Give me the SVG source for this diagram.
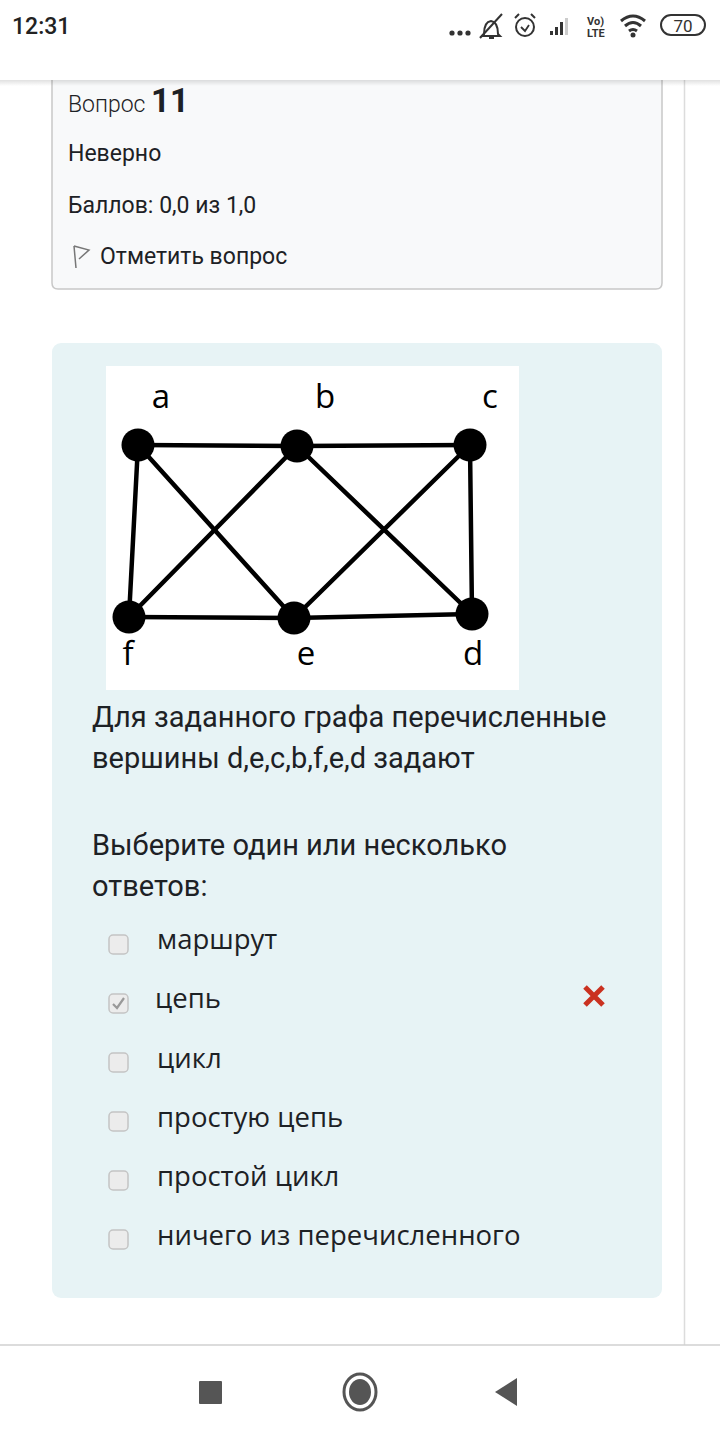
<svg xmlns="http://www.w3.org/2000/svg" width="720" height="1440" viewBox="0 0 720 1440">
<style>
.r{font-family:Roboto,"Liberation Sans",sans-serif;fill:#1d2125}
.o{font-family:"Open Sans","Noto Sans",sans-serif;fill:#1d2125;font-size:27.5px}
.lbl{font-family:"Open Sans","DejaVu Sans",sans-serif;font-size:33px;fill:#000}
.edge{stroke:#000;stroke-width:4.5;stroke-linecap:round}
.node{fill:#000}
.cb{fill:#ececec;stroke:#c4c4c4;stroke-width:1.5}
.ic{fill:#555}
</style>
<defs>
<linearGradient id="sh" x1="0" y1="0" x2="0" y2="1">
<stop offset="0" stop-color="#000" stop-opacity="0.12"/>
<stop offset="1" stop-color="#000" stop-opacity="0"/>
</linearGradient>
</defs>
<rect width="720" height="1440" fill="#fff"/>
<!-- page scroll border -->
<line x1="684.5" y1="80" x2="684.5" y2="1345" stroke="#dcdcdc" stroke-width="1.5"/>
<!-- info box -->
<g id="info">
<path d="M52,70 V283 Q52,289 58,289 H656 Q662,289 662,283 V70 Z" fill="#f8f9fa" stroke="#c8c8c8" stroke-width="1.5"/>
<text x="68" y="112" class="r" font-size="23" font-weight="300" fill="#333">Вопрос <tspan font-size="33" font-weight="700" fill="#1d2125">11</tspan></text>
<text x="68" y="161" class="r" font-size="23">Неверно</text>
<text x="68" y="213" class="r" font-size="23">Баллов: 0,0 из 1,0</text>
<path d="M74,246 L76,268 M74,246 L89,250 L79,259" fill="none" stroke="#777" stroke-width="1.5"/>
<text x="100" y="264" class="r" font-size="23">Отметить вопрос</text>
</g>
<!-- header -->
<rect x="0" y="0" width="720" height="80" fill="#fff"/>
<rect x="0" y="80" width="720" height="6" fill="url(#sh)"/>
<g id="statusbar">
<text x="12" y="34" font-family="Roboto,sans-serif" font-size="23" font-weight="500" fill="#222">12:31</text>
<circle cx="452" cy="33" r="2.6" fill="#333"/><circle cx="460" cy="33" r="2.6" fill="#333"/><circle cx="468" cy="33" r="2.6" fill="#333"/>
<path d="M484,34 Q484,22 491,21 Q498,22 498,34 L500,36 H482 Z M489,38 H494" fill="none" stroke="#333" stroke-width="2"/>
<line x1="480" y1="38" x2="502" y2="14" stroke="#333" stroke-width="2"/>
<circle cx="525" cy="27" r="9" fill="none" stroke="#333" stroke-width="2"/>
<path d="M521,27 L525,31 L529,25" fill="none" stroke="#333" stroke-width="1.8"/>
<path d="M515,18 L519,14 M535,18 L531,14" stroke="#333" stroke-width="2"/>
<rect x="550" y="31" width="3" height="4" fill="#333"/>
<rect x="555" y="27" width="3" height="8" fill="#333"/>
<rect x="560" y="22" width="3" height="13" fill="#333"/>
<rect x="565" y="18" width="3" height="17" fill="#ccc"/>
<text x="587" y="25" font-family="Roboto,sans-serif" font-size="11" font-weight="700" fill="#333">Vo)</text>
<text x="587" y="37" font-family="Roboto,sans-serif" font-size="11" font-weight="700" fill="#333">LTE</text>
<path d="M621,21 Q633,11 645,21 M625,26 Q633,19 641,26 M629,31 Q633,28 637,31" fill="none" stroke="#333" stroke-width="3"/>
<circle cx="633" cy="35" r="2.5" fill="#333"/>
<rect x="661" y="15" width="44" height="20" rx="10" fill="none" stroke="#333" stroke-width="2"/>
<text x="683" y="32" text-anchor="middle" font-family="Roboto,sans-serif" font-size="17" fill="#333">70</text>
</g>
<!-- content box -->
<rect x="52" y="343" width="610" height="955" rx="9" fill="#e7f3f5"/>
<g id="graph">
<rect x="106" y="366" width="413" height="324" fill="#fff"/>
<g id="connectors">
<line class="edge" x1="138" y1="445" x2="297" y2="446"/>
<line class="edge" x1="297" y1="446" x2="470" y2="445"/>
<line class="edge" x1="138" y1="445" x2="129" y2="617"/>
<line class="edge" x1="470" y1="445" x2="472" y2="614"/>
<line class="edge" x1="129" y1="617" x2="294" y2="618"/>
<line class="edge" x1="294" y1="618" x2="472" y2="614"/>
<line class="edge" x1="138" y1="445" x2="294" y2="618"/>
<line class="edge" x1="297" y1="446" x2="129" y2="617"/>
<line class="edge" x1="297" y1="446" x2="472" y2="614"/>
<line class="edge" x1="470" y1="445" x2="294" y2="618"/>
</g>
<g id="node-a"><circle class="node" cx="138" cy="445" r="16.5"/><text class="lbl" x="161" y="408" text-anchor="middle">a</text></g>
<g id="node-b"><circle class="node" cx="297" cy="446" r="16.5"/><text class="lbl" x="325" y="408" text-anchor="middle">b</text></g>
<g id="node-c"><circle class="node" cx="470" cy="445" r="16.5"/><text class="lbl" x="490" y="408" text-anchor="middle">c</text></g>
<g id="node-f"><circle class="node" cx="129" cy="617" r="16.5"/><text class="lbl" x="128" y="665" text-anchor="middle">f</text></g>
<g id="node-e"><circle class="node" cx="294" cy="618" r="16.5"/><text class="lbl" x="306" y="665" text-anchor="middle">e</text></g>
<g id="node-d"><circle class="node" cx="472" cy="614" r="16.5"/><text class="lbl" x="473" y="665" text-anchor="middle">d</text></g>
</g>
<text x="92" y="727" class="r" font-size="29">Для заданного графа перечисленные</text>
<text x="92" y="768" class="r" font-size="29">вершины d,e,c,b,f,e,d задают</text>
<text x="92" y="855" class="r" font-size="29">Выберите один или несколько</text>
<text x="92" y="896" class="r" font-size="29">ответов:</text>
<g id="options">
<rect class="cb" x="109" y="935" width="19" height="19" rx="4"/>
<text x="157" y="949" class="o">маршрут</text>
<rect class="cb" x="109" y="994" width="19" height="19" rx="4"/>
<path d="M113,1004 L117,1008 L124,998" fill="none" stroke="#999" stroke-width="2.2"/>
<text x="155" y="1008" class="o">цепь</text>
<path d="M585,987 L603,1005 M603,987 L585,1005" stroke="#ca3120" stroke-width="5"/>
<rect class="cb" x="109" y="1053" width="19" height="19" rx="4"/>
<text x="157" y="1068" class="o">цикл</text>
<rect class="cb" x="109" y="1112" width="19" height="19" rx="4"/>
<text x="157" y="1127" class="o">простую цепь</text>
<rect class="cb" x="109" y="1171" width="19" height="19" rx="4"/>
<text x="157" y="1186" class="o">простой цикл</text>
<rect class="cb" x="109" y="1230" width="19" height="19" rx="4"/>
<text x="157" y="1245" class="o">ничего из перечисленного</text>
</g>
<!-- nav bar -->
<line x1="0" y1="1345" x2="720" y2="1345" stroke="#d0d0d0" stroke-width="1.5"/>
<g id="navbar">
<rect class="ic" x="199" y="1381" width="23" height="23" rx="1"/>
<ellipse cx="360" cy="1392" rx="16" ry="18" fill="none" stroke="#555" stroke-width="3"/>
<ellipse cx="360" cy="1392" rx="11" ry="13" class="ic"/>
<path class="ic" d="M517,1378 V1406 L495,1392 Z"/>
</g>
</svg>
